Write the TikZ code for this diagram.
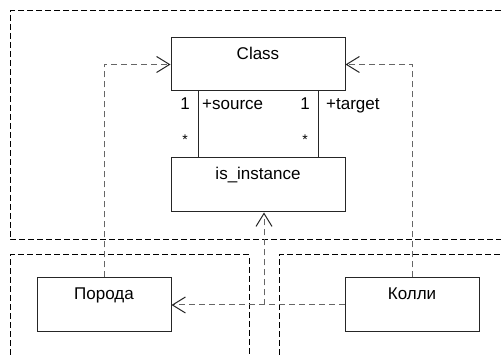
\documentclass[tikz,border=0pt]{standalone}
\usepackage{fontspec}
\setmainfont{Liberation Sans}
\usetikzlibrary{arrows.meta}
\begin{document}
\begin{tikzpicture}[x=1pt,y=-1pt,
  umlbox/.style={draw=black!85,line width=1pt,rectangle,inner sep=0pt},
  txt/.style={font=\fontsize{17}{19}\selectfont,inner sep=0pt,anchor=base},
  pkg/.style={draw=black,line width=1pt,dash pattern=on 6pt off 3pt},
  dep/.style={draw=black!60,line width=1pt,dash pattern=on 6pt off 4pt,
    -{Straight Barb[length=13pt,width=16pt,line width=1pt,color=black!85]}},
  assoc/.style={draw=black!85,line width=1pt}]
\useasboundingbox[fill=white] (0,0) rectangle (501,355);
% packages
\draw[pkg] (501,11) -- (10,11) -- (10,240) -- (501,240);
\draw[pkg] (10,355) -- (10,255) -- (249,255) -- (249,355);
\draw[pkg] (279,355) -- (279,255) -- (501,255);
% classes
\node[umlbox,minimum width=174pt,minimum height=53pt] (class) at (258,64.5) {};
\node[txt] (classT) at ([yshift=-22]class.north) {Class};
\node[umlbox,minimum width=174pt,minimum height=54pt] (inst) at (258,185) {};
\node[txt] (instT) at ([yshift=-22]inst.north) {is\_instance};
\node[umlbox,minimum width=134pt,minimum height=54pt] (poroda) at (104,305) {};
\node[txt] (porodaT) at ([yshift=-22]poroda.north) {Порода};
\node[umlbox,minimum width=134pt,minimum height=54pt] (kolli) at (412,305) {};
\node[txt] (kolliT) at ([yshift=-22]kolli.north) {Колли};
% associations
\draw[assoc] ([xshift=-60]class.south) -- ([xshift=-60]inst.north);
\draw[assoc] ([xshift=60]class.south) -- ([xshift=60]inst.north);
\node[txt] (m1) at (185,110) {1};
\node[txt] (m2) at (305,110) {1};
\node[txt,font=\fontsize{14}{16}\selectfont] (s1) at (185,145) {*};
\node[txt,font=\fontsize{14}{16}\selectfont] (s2) at (305,145) {*};
\node[txt,anchor=base west] (src) at (202,110) {+source};
\node[txt,anchor=base west] (tgt) at (326,110) {+target};
% dependencies
\draw[dep] (poroda.north) |- (class.west);
\draw[dep] (kolli.north) |- (class.east);
\draw[dep] (kolli.west) -- (poroda.east);
\draw[dep] (kolli.west) -| ([xshift=6]inst.south);
\end{tikzpicture}
\end{document}
